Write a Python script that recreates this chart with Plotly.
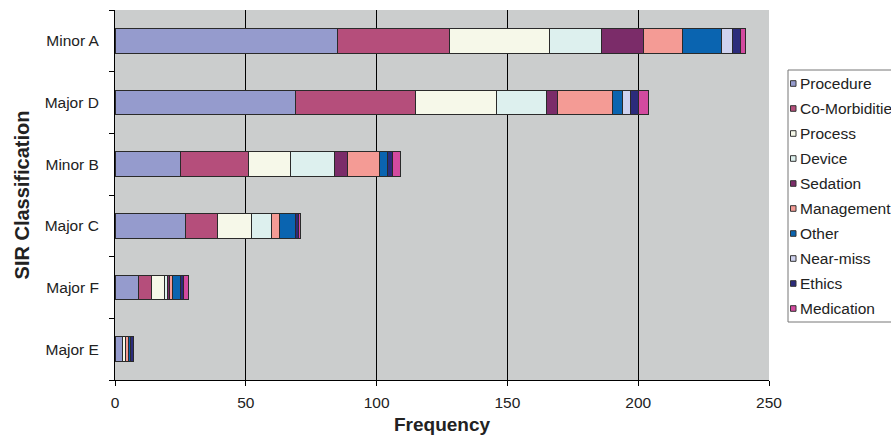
import plotly.graph_objects as go

categories = ["Minor A", "Major D", "Minor B", "Major C", "Major F", "Major E"]
series_names = ["Procedure", "Co-Morbidities", "Process", "Device", "Sedation",
                "Management", "Other", "Near-miss", "Ethics", "Medication"]

procedure      = [85, 69, 25, 27, 9, 3]
co_morbidities = [43, 46, 26, 12, 5, 0]
process        = [38, 31, 16, 13, 5, 1]
device         = [20, 19, 17, 8, 1, 0]
sedation       = [16, 4, 5, 0, 1, 0]
management     = [15, 21, 12, 3, 1, 1]
other          = [15, 4, 3, 6, 3, 1]
near_miss      = [4, 3, 0, 0, 0, 0]
ethics         = [3, 3, 2, 1, 1, 1]
medication     = [2, 4, 3, 1, 2, 0]

values = [procedure, co_morbidities, process, device, sedation,
          management, other, near_miss, ethics, medication]
colors = ["#959bcd", "#b54e7b", "#f6f8e9", "#ddf0ee", "#7b2c69",
          "#f49b95", "#0a64b0", "#cfd2ef", "#2b2b7b", "#d34a9f"]

x_ticks = [0, 50, 100, 150, 200, 250]

PX0, PX1, PY0, PY1 = 115, 769, 10, 380   # plot area in page pixels
W, H = 891, 441


def px(x):
    return (x - PX0) / (PX1 - PX0)


def py(y):
    return (PY1 - y) / (PY1 - PY0)


fig = go.Figure()
for name, vals, col in zip(series_names, values, colors):
    fig.add_trace(go.Bar(
        y=categories, x=vals, name=name, orientation="h",
        marker=dict(color=col, line=dict(color="#2a2a2a", width=1)),
        showlegend=False,
    ))

font_family = "Liberation Sans, Arial, sans-serif"

# custom legend (box, swatches, labels)
shapes = [dict(type="rect", xref="paper", yref="paper",
               x0=px(788), x1=px(960), y0=py(70), y1=py(322),
               fillcolor="white", line=dict(color="#777777", width=1), layer="above")]
annotations = []
for i, (name, col) in enumerate(zip(series_names, colors)):
    cy = 83.5 + 25 * i
    shapes.append(dict(type="rect", xref="paper", yref="paper",
                       x0=px(790.5), x1=px(796), y0=py(cy + 2.8), y1=py(cy - 2.8),
                       fillcolor=col, line=dict(color="#333333", width=1), layer="above"))
    annotations.append(dict(xref="paper", yref="paper", x=px(797.5), y=py(cy),
                            xanchor="left", yanchor="middle", showarrow=False,
                            text=name, font=dict(family=font_family, size=15.5, color="#222222")))

fig.update_layout(
    barmode="stack",
    bargap=0.6,
    width=W, height=H,
    margin=dict(l=PX0, r=W - PX1, t=PY0, b=H - PY1, autoexpand=False),
    paper_bgcolor="white",
    plot_bgcolor="#cbcdcd",
    font=dict(family=font_family, size=15.5, color="#222222"),
    showlegend=False,
    shapes=shapes,
    annotations=annotations,
    xaxis=dict(
        range=[0, 250], tickvals=x_ticks, ticktext=[str(t) for t in x_ticks],
        showgrid=True, gridcolor="#000000", gridwidth=1,
        showline=True, linecolor="#000000", linewidth=1, mirror=False,
        ticks="outside", ticklen=5, tickcolor="#000000",
        zeroline=False, ticklabelstandoff=3,
        title=dict(text="<b>Frequency</b>", font=dict(size=19, color="#222222"), standoff=8),
    ),
    yaxis=dict(
        categoryorder="array", categoryarray=categories[::-1],
        showline=True, linecolor="#000000", linewidth=1,
        ticks="outside", ticklen=5, tickcolor="#000000", tickson="boundaries",
        showgrid=False, ticklabelstandoff=12,
        title=dict(text="<b>SIR Classification</b>", font=dict(size=20, color="#222222"), standoff=9),
    ),
)

fig.write_html(
    "out.html",
    config={"displayModeBar": False},
    post_script="document.body.style.margin='0';document.body.style.overflow='hidden';",
)
